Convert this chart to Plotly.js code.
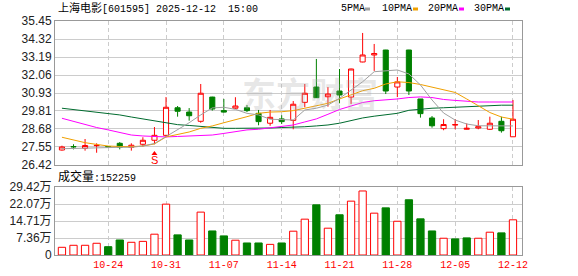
<!DOCTYPE html>
<html>
<head>
<meta charset="utf-8">
<script src="https://cdn.plot.ly/plotly-3.0.1.min.js"></script>
<style>html,body{margin:0;padding:0;background:#fff;}#chart{width:578px;height:276px;}</style>
</head>
<body>
<div id="chart"></div>
<script>
const dates = ['2025-10-20','2025-10-21','2025-10-22','2025-10-23','2025-10-24','2025-10-27','2025-10-28','2025-10-29','2025-10-30','2025-10-31',
'2025-11-03','2025-11-04','2025-11-05','2025-11-06','2025-11-07','2025-11-10','2025-11-11','2025-11-12','2025-11-13','2025-11-14',
'2025-11-17','2025-11-18','2025-11-19','2025-11-20','2025-11-21','2025-11-24','2025-11-25','2025-11-26','2025-11-27','2025-11-28',
'2025-12-01','2025-12-02','2025-12-03','2025-12-04','2025-12-05','2025-12-08','2025-12-09','2025-12-10','2025-12-11','2025-12-12'];
const openP  = [27.36,27.58,27.47,27.63,27.57,27.78,27.53,27.72,27.97,28.28, 30.01,29.74,29.16,30.68,29.83,29.98,30.01,29.66,29.04,29.31, 29.22,30.35,31.31,30.70,31.06,30.68,32.88,33.32,33.63,31.31, 33.63,30.56,29.37,28.70,28.93,28.66,28.74,28.66,29.16,28.19];
const highP  = [27.63,27.72,28.05,27.78,27.60,27.86,27.78,28.16,28.80,30.68, 30.12,29.99,31.50,30.70,30.56,30.67,30.18,29.87,29.87,29.54, 30.43,31.50,33.07,31.31,32.44,32.46,34.70,34.01,33.64,31.94, 33.64,30.56,29.49,29.29,29.29,29.03,29.24,29.45,29.45,30.50];
const lowP   = [27.32,27.40,27.32,27.19,27.53,27.40,27.32,27.57,27.72,28.16, 29.45,29.20,29.07,29.83,29.72,29.93,29.74,28.91,28.88,28.99, 28.66,30.04,30.62,30.08,30.29,30.25,32.86,32.32,30.87,30.68, 30.81,29.39,28.76,28.60,28.66,28.64,28.66,28.62,28.45,28.19];
const closeP = [27.55,27.56,27.64,27.65,27.55,27.53,27.66,27.97,28.28,30.04, 29.79,29.51,30.92,29.93,29.74,30.12,29.83,29.14,29.41,29.14, 30.23,30.92,30.64,30.87,30.81,32.44,33.32,33.41,31.06,31.63, 31.06,29.64,28.88,28.96,28.95,28.72,28.82,29.04,28.57,29.29];
const volume = [33300,42000,42000,50700,36000,65000,55000,59000,90000,220000, 87000,65000,185500,104000,82600,64000,52000,52000,46000,52000, 103000,155000,217000,116000,174000,233000,277000,181000,204000,146000, 239000,156500,104000,72500,69600,74000,72500,98600,95700,152259];
const ma5  = [27.44,27.46,27.49,27.52,27.53,27.53,27.53,27.61,27.77,28.21, 28.62,29.07,29.56,30.00,30.04,29.91,29.66,29.56,29.29,29.28, 29.24,29.87,29.98,30.18,30.60,31.12,31.64,32.27,32.34,32.38, 32.13,31.44,30.50,29.68,29.24,28.99,28.88,28.87,28.87,28.87];
const ma10 = [28.16,27.99,27.82,27.71,27.61,27.58,27.57,27.61,27.74,28.18, 28.35,28.49,28.72,28.87,29.07,29.24,29.45,29.66,29.74,29.76, 29.83,29.98,30.12,30.29,30.56,30.81,31.08,31.23,31.50,31.64, 31.59,31.47,31.31,31.12,30.97,30.56,30.12,29.71,29.43,29.29];
const ma20 = [29.35,29.15,28.96,28.77,28.62,28.46,28.30,28.24,28.20,28.18, 28.21,28.24,28.26,28.30,28.40,28.49,28.62,28.66,28.76,28.83, 28.93,29.12,29.31,29.60,29.90,30.12,30.34,30.45,30.50,30.56, 30.65,30.69,30.65,30.53,30.47,30.40,30.37,30.37,30.37,30.37];
const ma30 = [29.98,29.90,29.81,29.73,29.66,29.56,29.43,29.31,29.18,29.05, 28.95,28.90,28.83,28.76,28.72,28.72,28.72,28.72,28.74,28.77, 28.78,28.82,28.87,28.93,29.04,29.21,29.37,29.48,29.56,29.66, 29.85,29.93,29.98,30.01,30.04,30.10,30.14,30.17,30.17,30.17];
const maNames = ['5PMA','10PMA','20PMA','30PMA'];
const xTickDates = ['2025-10-24','2025-10-31','2025-11-07','2025-11-14','2025-11-21','2025-11-28','2025-12-05','2025-12-12'];
const xTickLabels = ['10-24','10-31','11-07','11-14','11-21','11-28','12-05','12-12'];
const priceTicks = [26.42,27.55,28.68,29.81,30.93,32.06,33.19,34.32,35.45];
const priceTickLabels = ['26.42','27.55','28.68','29.81','30.93','32.06','33.19','34.32','35.45'];
const volTicks = [0,73550,147100,220650,294200];
const volTickLabels = ['0','7.36万','14.71万','22.07万','29.42万'];
const stockName = '上海电影';
const stockCode = '601595';
const stamp = '2025-12-12  15:00';
const signalIndex = 8;
const signalText = 'S';

const RED = '#ff0000', GREEN = '#008000';
const maColors = ['#a0a0a0','#f0a000','#ff00ff','#006b2e'];
const W = 578, H = 276, ML = 55, MR = 56, MT = 21, MB = 21;
const PW = W - ML - MR, PH = H - MT - MB;
const px = x => (x - ML) / PW;
const py = y => (H - MB - y) / PH;

const volUp = closeP.map((c, i) => i === 0 ? c >= openP[i] : c >= closeP[i - 1]);

const traces = [];
[ma30, ma20, ma10, ma5].forEach((m, k) => {
  const idx = 3 - k;
  traces.push({type:'scatter', mode:'lines', x:dates, y:m, xaxis:'x', yaxis:'y',
    line:{color:maColors[idx], width:1}, hoverinfo:'skip', name:maNames[idx]});
});
traces.push({type:'candlestick', x:dates, open:openP, high:highP, low:lowP, close:closeP,
  xaxis:'x', yaxis:'y', whiskerwidth:0,
  increasing:{line:{color:RED, width:1}, fillcolor:'#ffffff'},
  decreasing:{line:{color:GREEN, width:1}, fillcolor:GREEN}, hoverinfo:'skip'});
traces.push({type:'bar', x:dates, y:volume, xaxis:'x2', yaxis:'y2',
  marker:{color:volUp.map(u => u ? '#ffffff' : GREEN), line:{color:volUp.map(u => u ? RED : GREEN), width:1}},
  hoverinfo:'skip'});

const xr = [-0.6, 39.78];
const axisCommon = {showline:true, linecolor:'#999', linewidth:1, mirror:true, ticks:'', zeroline:false, fixedrange:true};

const annotations = [
  {xref:'paper', yref:'paper', x:px(56), y:py(8.5), xanchor:'left', yanchor:'middle', showarrow:false,
   text:'<span style="font-size:11px">' + stockName + '</span>[' + stockCode + '] ' + stamp,
   font:{family:'Liberation Mono, Noto Sans CJK SC', size:10, color:'#000'}},
  {xref:'paper', yref:'paper', x:px(56), y:py(177), xanchor:'left', yanchor:'middle', showarrow:false,
   text:'<span style="font-size:12px">成交量</span>:' + String(volume[volume.length - 1]),
   font:{family:'Liberation Mono, Noto Sans CJK SC', size:10, color:'#000'}},
  {xref:'paper', yref:'paper', x:px(310), y:py(92), xanchor:'center', yanchor:'middle', showarrow:false,
   text:'<b>东方财富</b>', font:{family:'Noto Sans CJK SC', size:34, color:'rgba(170,170,170,0.28)'}},
  {xref:'x', yref:'y', x:dates[signalIndex], y:priceTicks[0], yshift:5, xanchor:'center', yanchor:'middle', showarrow:false,
   text:signalText, font:{family:'Liberation Sans', size:11, color:RED}}
];
const legendX = [339, 380, 426, 472];
const legendSq = [365, 413, 459, 505];
const shapes = [
  {type:'path', xref:'x', yref:'y', xsizemode:'pixel', ysizemode:'pixel', xanchor:dates[signalIndex], yanchor:priceTicks[0],
   path:'M -3 10 L 3 10 L 0 14 Z', fillcolor:RED, line:{width:0}}
];
maNames.forEach((n, i) => {
  annotations.push({xref:'paper', yref:'paper', x:px(legendX[i]), y:py(9), xanchor:'left', yanchor:'middle', showarrow:false,
    text:n, font:{family:'Liberation Mono', size:10, color:'#000'}});
  shapes.push({type:'rect', xref:'paper', yref:'paper', x0:px(legendSq[i]), x1:px(legendSq[i] + 5), y0:py(10.5), y1:py(7.5),
    fillcolor:maColors[i], line:{width:0}});
});

const layout = {
  width:W, height:H, margin:{l:ML, r:MR, t:MT, b:MB, pad:0},
  paper_bgcolor:'#fff', plot_bgcolor:'#fff', showlegend:false,
  boxgap:0.37, bargap:0.37, dragmode:false,
  xaxis:Object.assign({}, axisCommon, {type:'category', anchor:'y', range:xr, tickvals:xTickDates, ticktext:xTickLabels,
    showticklabels:false, showgrid:true, gridcolor:'#cccccc', griddash:'4px,3px', gridwidth:1, rangeslider:{visible:false}}),
  yaxis:Object.assign({}, axisCommon, {domain:[py(165), 1], range:[priceTicks[0], priceTicks[priceTicks.length-1]],
    tickvals:priceTicks, ticktext:priceTickLabels, showgrid:true, gridcolor:'#cccccc', gridwidth:1,
    tickfont:{family:'Liberation Sans', size:12, color:'#222'}}),
  xaxis2:Object.assign({}, axisCommon, {type:'category', anchor:'y2', range:xr, tickvals:xTickDates, ticktext:xTickLabels,
    showgrid:true, gridcolor:'#cccccc', griddash:'4px,3px', gridwidth:1,
    tickfont:{family:'Liberation Mono', size:10, color:RED}}),
  yaxis2:Object.assign({}, axisCommon, {domain:[0, py(187)], range:[0, volTicks[volTicks.length-1]],
    tickvals:volTicks, ticktext:volTickLabels, showgrid:true, gridcolor:'#cccccc', gridwidth:1,
    tickfont:{family:'Liberation Sans, Noto Sans CJK SC', size:12, color:'#222'}}),
  annotations:annotations, shapes:shapes
};
Plotly.newPlot('chart', traces, layout, {staticPlot:true, displayModeBar:false});
</script>
</body>
</html>
